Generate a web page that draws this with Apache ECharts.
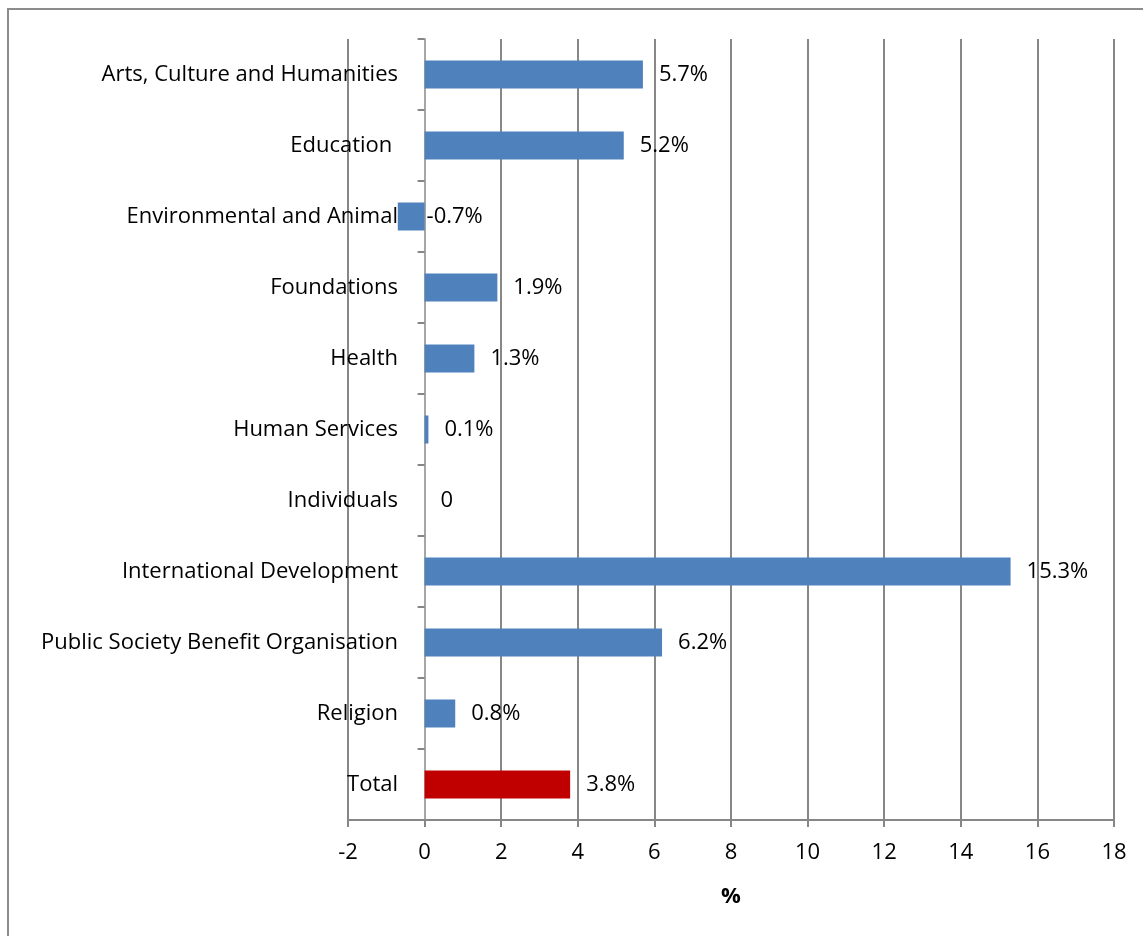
<!DOCTYPE html>
<html><head><meta charset="utf-8">
<script src="https://cdn.jsdelivr.net/npm/echarts@6/dist/echarts.min.js"></script>
<style>html,body{margin:0;padding:0;background:#fff}#frame{position:absolute;left:7px;top:8px;width:1150px;height:950px;border:2px solid #8c8c8c;box-sizing:border-box}#c{position:absolute;left:0;top:0;width:1143px;height:936px}</style>
</head><body><div id="frame"></div><div id="c"></div>
<script>
const categories = ["Arts, Culture and Humanities","Education ","Environmental and Animal","Foundations","Health","Human Services","Individuals","International Development","Public Society Benefit Organisation","Religion","Total"];
const values = [5.7, 5.2, -0.7, 1.9, 1.3, 0.1, 0, 15.3, 6.2, 0.8, 3.8];
const labels = ["5.7%","5.2%","-0.7%","1.9%","1.3%","0.1%","0","15.3%","6.2%","0.8%","3.8%"];
const xTicks = {min: -2, max: 18, interval: 2};
const axisName = "%";

const FONT = "Open Sans";
const FS = 22;
const chart = echarts.init(document.getElementById('c'), null, {renderer:'canvas'});
const data = values.map((v,i)=>({
  value: v,
  itemStyle: {color: categories[i]==="Total" ? "#C00000" : "#4F81BD"},
  label: {distance: v < 0 ? 2 : 16}
}));
chart.setOption({
  animation:false,
  textStyle:{fontFamily:FONT},
  grid:{left:348, right:29, top:39, bottom:116, containLabel:false, outerBoundsMode:'none'},
  xAxis:{type:'value', min:xTicks.min, max:xTicks.max, interval:xTicks.interval,
    name:axisName, nameLocation:'middle', nameGap:66,
    nameTextStyle:{fontFamily:FONT, fontSize:22, fontWeight:'bold', color:'#000'},
    axisLine:{show:true, lineStyle:{color:'#878787', width:2}},
    axisTick:{show:true, length:7, lineStyle:{color:'#878787', width:2}},
    axisLabel:{fontFamily:FONT, fontSize:FS, color:'#000', margin:22},
    splitLine:{show:true, lineStyle:{color:'#878787', width:2}}
  },
  yAxis:{type:'category', data:categories, inverse:true,
    axisLine:{show:true, onZero:true, lineStyle:{color:'#a6a6a6', width:2}},
    axisTick:{show:true, length:7, lineStyle:{color:'#878787', width:2}},
    axisLabel:{fontFamily:FONT, fontSize:FS, color:'#000', margin:-50, align:'right'},
    splitLine:{show:false}
  },
  series:[{type:'bar', data:data, barWidth:28,
    label:{show:true, position:'right', fontFamily:FONT, fontSize:FS, color:'#000',
      formatter:p=>labels[p.dataIndex]}
  }]
});
</script></body></html>
